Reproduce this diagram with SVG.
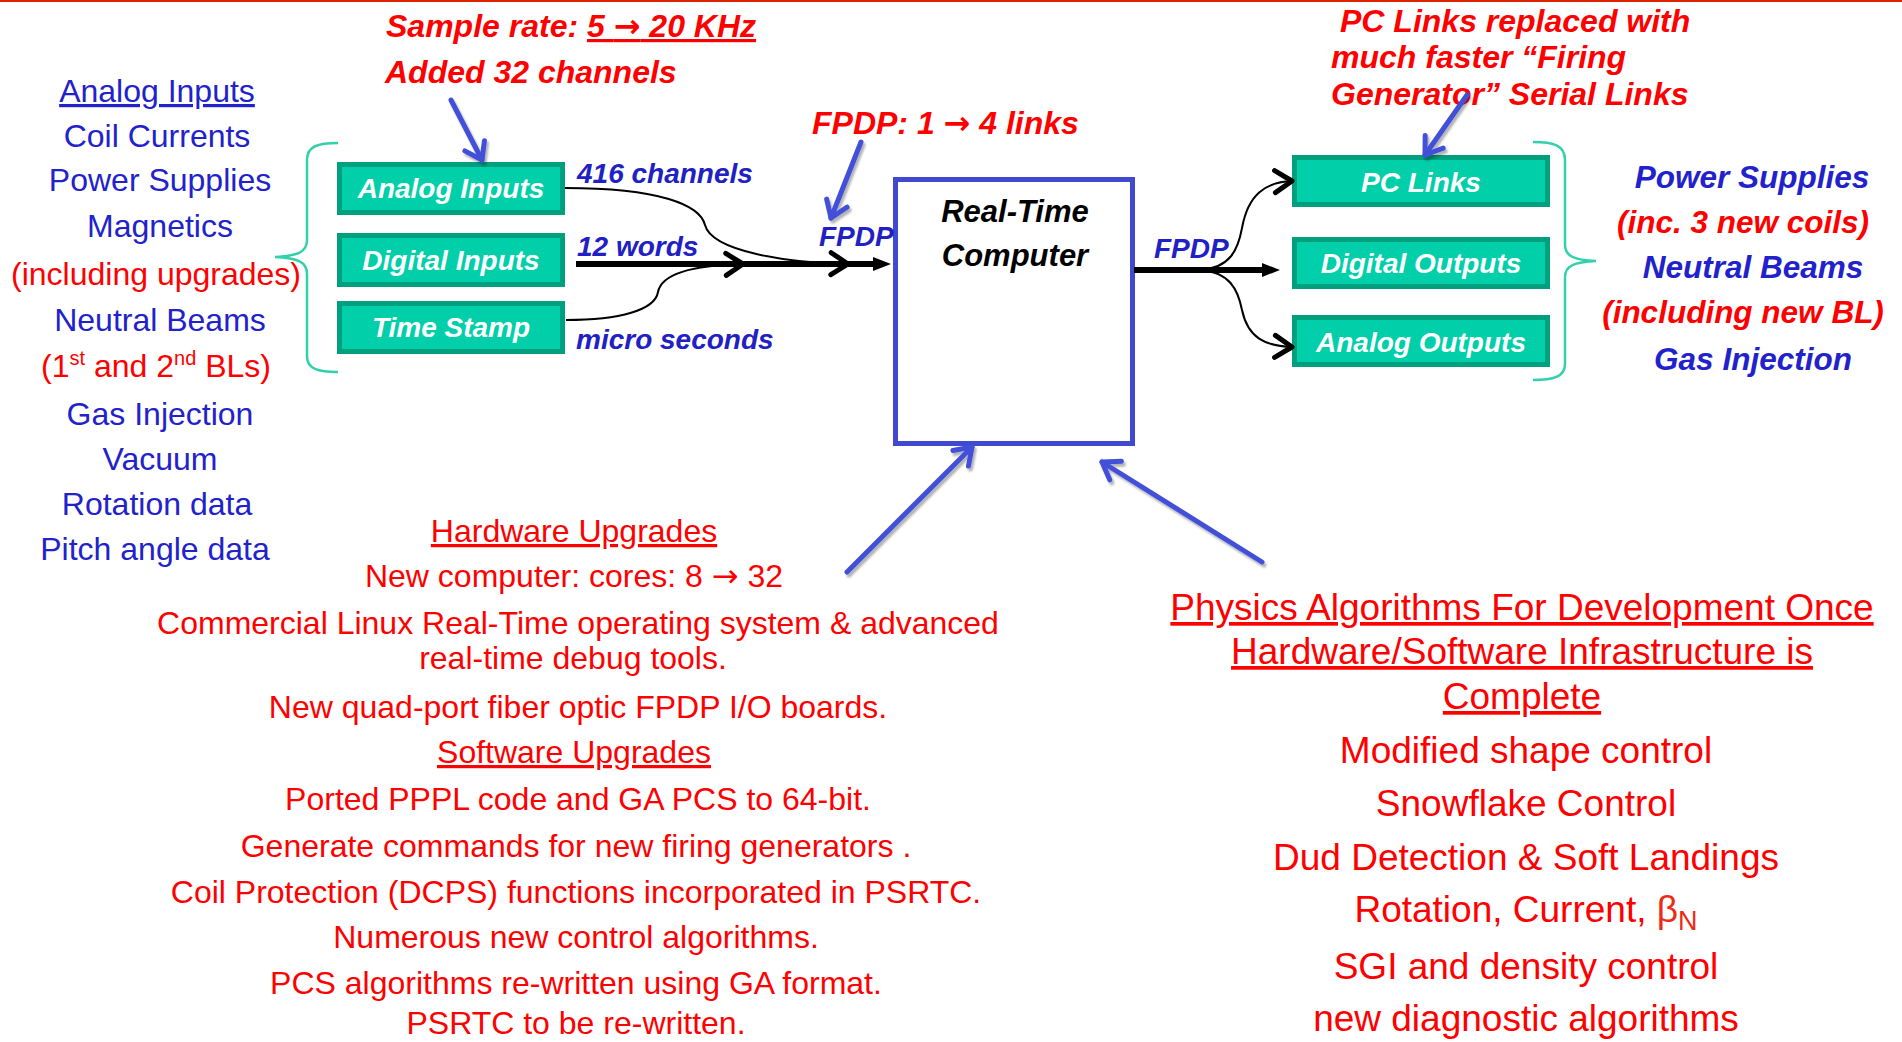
<svg xmlns="http://www.w3.org/2000/svg" width="1902" height="1042" viewBox="0 0 1902 1042">
<defs>
<style>
.t{font-family:"Liberation Sans",Arial,Helvetica,sans-serif}
.ar{font-family:"DejaVu Sans",sans-serif}
.lc{font-size:32px;fill:#2222cc;text-anchor:middle}
.rd{fill:#ff0000}
.bb{font-size:32px;fill:#ff0000;text-anchor:middle}
.rb{font-size:37px;fill:#ff0000;text-anchor:middle}
.box{fill:#00cfaa;stroke:#00a07e;stroke-width:5}
.bl{font-size:28px;font-weight:bold;font-style:italic;fill:#ffffff;text-anchor:middle}
.ti{font-size:32px;font-weight:bold;font-style:italic;fill:#ff0000}
.lab{font-size:28px;font-weight:bold;font-style:italic;fill:#2020c4}
.rc{font-size:31.5px;font-weight:bold;font-style:italic;text-anchor:middle}
.cmp{font-size:31px;font-weight:bold;font-style:italic;fill:#000;text-anchor:middle}
.thin{fill:none;stroke:#000;stroke-width:2}
.thick{fill:none;stroke:#000;stroke-width:6}
.blue{fill:none;stroke:#4250d8;stroke-width:5;stroke-linecap:round}
.brace{fill:none;stroke:#33d1ab;stroke-width:2.5}
</style>
<marker id="chevK" viewBox="0 0 24 24" refX="20" refY="12" markerWidth="24" markerHeight="24" markerUnits="userSpaceOnUse" orient="auto" overflow="visible"><path d="M3,1 L20,12 L3,23" fill="none" stroke="#000" stroke-width="5" stroke-linecap="round" stroke-linejoin="round"/></marker>
<marker id="triK" viewBox="0 0 18 14" refX="8" refY="7" markerWidth="18" markerHeight="14" markerUnits="userSpaceOnUse" orient="auto"><path d="M0,0 L18,7 L0,14 z" fill="#000"/></marker>
<marker id="chevB" viewBox="0 0 24 24" refX="20" refY="12" markerWidth="24" markerHeight="24" markerUnits="userSpaceOnUse" orient="auto" overflow="visible"><path d="M4,1 L20,12 L4,23" fill="none" stroke="#4250d8" stroke-width="5" stroke-linecap="round" stroke-linejoin="round"/></marker>
<filter id="sh" filterUnits="userSpaceOnUse" x="0" y="0" width="1902" height="1042"><feDropShadow dx="2" dy="3" stdDeviation="1.2" flood-color="#000" flood-opacity="0.3"/></filter>
</defs>
<rect x="0" y="0" width="1902" height="1042" fill="#ffffff"/>
<line x1="0" y1="1" x2="1902" y2="1" stroke="#dd2200" stroke-width="2"/>

<g id="input-list" class="t">
<text class="lc" x="157" y="102" text-decoration="underline">Analog Inputs</text>
<text class="lc" x="157" y="147">Coil Currents</text>
<text class="lc" x="160" y="191">Power Supplies</text>
<text class="lc" x="160" y="237">Magnetics</text>
<text class="lc rd" x="156" y="285">(including upgrades)</text>
<text class="lc" x="160" y="331">Neutral Beams</text>
<text class="lc rd" x="156" y="377">(1<tspan dy="-12" font-size="20">st</tspan><tspan dy="12"> and 2</tspan><tspan dy="-12" font-size="20">nd</tspan><tspan dy="12"> BLs)</tspan></text>
<text class="lc" x="160" y="425">Gas Injection</text>
<text class="lc" x="160" y="470">Vacuum</text>
<text class="lc" x="157" y="515">Rotation data</text>
<text class="lc" x="155" y="560">Pitch angle data</text>
</g>
<path id="brace-left" class="brace" d="M338,143 C318,143 307,146 307,160 L307,240 C307,252 298,256 275,257 C298,258 307,262 307,274 L307,356 C307,369 318,372 338,372"/>

<g id="node-analog-inputs" class="t"><rect class="box" x="339.5" y="164.5" width="223" height="48"/><text class="bl" x="451" y="198">Analog Inputs</text></g>
<g id="node-digital-inputs" class="t"><rect class="box" x="339.5" y="235.5" width="223" height="49"/><text class="bl" x="451" y="270">Digital Inputs</text></g>
<g id="node-time-stamp" class="t"><rect class="box" x="339.5" y="303.5" width="223" height="48"/><text class="bl" x="451" y="337">Time Stamp</text></g>

<g id="node-computer" class="t"><rect x="895.5" y="179.5" width="237" height="264" fill="#ffffff" stroke="#4049cf" stroke-width="5"/><text class="cmp" x="1015" y="222">Real-Time</text><text class="cmp" x="1015" y="266">Computer</text></g>

<g id="node-pc-links" class="t"><rect class="box" x="1294.5" y="157.5" width="253" height="47"/><text class="bl" x="1421" y="192">PC Links</text></g>
<g id="node-digital-outputs" class="t"><rect class="box" x="1294.5" y="239.5" width="253" height="47"/><text class="bl" x="1421" y="273">Digital Outputs</text></g>
<g id="node-analog-outputs" class="t"><rect class="box" x="1294.5" y="317.5" width="253" height="47"/><text class="bl" x="1421" y="352">Analog Outputs</text></g>

<path id="brace-right" class="brace" d="M1533,142 C1553,142 1565,145 1565,160 L1565,245 C1565,256 1574,260 1596,261 C1574,262 1565,266 1565,277 L1565,364 C1565,377 1553,380 1533,380"/>

<g id="output-list" class="t">
<text class="rc" x="1752" y="188" fill="#2222cc">Power Supplies</text>
<text class="rc" x="1743" y="233" fill="#ff0000">(inc. 3 new coils)</text>
<text class="rc" x="1753" y="278" fill="#2222cc">Neutral Beams</text>
<text class="rc" x="1743" y="323" fill="#ff0000">(including new BL)</text>
<text class="rc" x="1753" y="370" fill="#2222cc">Gas Injection</text>
</g>

<g id="annotations" class="t">
<text class="ti" x="386" y="37">Sample rate: <tspan text-decoration="underline">5 <tspan class="ar">→</tspan> 20 KHz </tspan></text>
<text class="ti" x="385" y="83">Added 32 channels</text>
<text class="ti" x="812" y="134">FPDP: 1 <tspan class="ar">→</tspan> 4 links</text>
<text class="ti" x="1340" y="32">PC Links replaced with</text>
<text class="ti" x="1331" y="68">much faster “Firing</text>
<text class="ti" x="1331" y="105">Generator” Serial Links</text>
<text class="lab" x="577" y="183">416 channels</text>
<text class="lab" x="577" y="256">12 words</text>
<text class="lab" x="576" y="349">micro seconds</text>
<text class="lab" x="819" y="246">FPDP</text>
<text class="lab" x="1154" y="258">FPDP</text>
</g>

<g id="connectors">
<path class="thick" d="M576,264 L881,264" marker-end="url(#triK)"/>
<path class="thin" d="M565,188 C660,188 700,205 705,225 C712,252 790,263 848,264" marker-end="url(#chevK)"/>
<path class="thin" d="M566,320 C620,320 655,310 658,292 C662,272 700,265 743,264" marker-end="url(#chevK)"/>
<path class="thick" d="M1134,270 L1270,270" marker-end="url(#triK)"/>
<path class="thin" d="M1200,270 C1230,268 1238,250 1242,228 C1248,195 1265,182 1292,181" marker-end="url(#chevK)"/>
<path class="thin" d="M1200,270 C1230,272 1238,290 1242,310 C1248,338 1265,346 1292,347" marker-end="url(#chevK)"/>
<g filter="url(#sh)">
<path class="blue" d="M451,100 L482,160" marker-end="url(#chevB)"/>
<path class="blue" d="M861,142 L831,218" marker-end="url(#chevB)"/>
<path class="blue" d="M1467,95 L1425,155" marker-end="url(#chevB)"/>
<path class="blue" d="M847,572 L972,447" marker-end="url(#chevB)"/>
<path class="blue" d="M1262,562 L1102,462" marker-end="url(#chevB)"/>
</g>
</g>

<g id="hardware-software" class="t">
<text class="bb" x="574" y="542" text-decoration="underline">Hardware Upgrades</text>
<text class="bb" x="574" y="587">New computer: cores: 8 <tspan class="ar">→</tspan> 32</text>
<text class="bb" x="578" y="634">Commercial Linux Real-Time operating system &amp; advanced</text>
<text class="bb" x="573" y="669">real-time debug tools.</text>
<text class="bb" x="578" y="718">New quad-port fiber optic FPDP I/O boards.</text>
<text class="bb" x="574" y="763" text-decoration="underline">Software Upgrades</text>
<text class="bb" x="578" y="810">Ported PPPL code and GA PCS to 64-bit.</text>
<text class="bb" x="576" y="857">Generate commands for new firing generators .</text>
<text class="bb" x="576" y="903">Coil Protection (DCPS) functions incorporated in PSRTC.</text>
<text class="bb" x="576" y="948">Numerous new control algorithms.</text>
<text class="bb" x="576" y="994">PCS algorithms re-written using GA format.</text>
<text class="bb" x="576" y="1034">PSRTC to be re-written.</text>
</g>

<g id="physics" class="t">
<text class="rb" x="1522" y="620" text-decoration="underline">Physics Algorithms For Development Once</text>
<text class="rb" x="1522" y="664" text-decoration="underline">Hardware/Software Infrastructure is</text>
<text class="rb" x="1522" y="709" text-decoration="underline">Complete</text>
<text class="rb" x="1526" y="763">Modified shape control</text>
<text class="rb" x="1526" y="816">Snowflake Control</text>
<text class="rb" x="1526" y="870">Dud Detection &amp; Soft Landings</text>
<text class="rb" x="1526" y="922">Rotation, Current, <tspan fill="#ee2a14">β</tspan><tspan dy="8" font-size="27" fill="#ee2a14">N</tspan></text>
<text class="rb" x="1526" y="979">SGI and density control</text>
<text class="rb" x="1526" y="1031">new diagnostic algorithms</text>
</g>
</svg>
